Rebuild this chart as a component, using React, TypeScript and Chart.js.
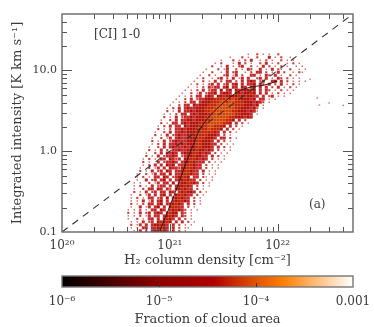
import React, { useEffect, useRef } from "react";
import { Chart, registerables } from "chart.js";

Chart.register(...registerables);

const FONT = "'DejaVu Serif', serif";
const INK = "#3a3a3a";

// Density map of the cloud: one string per row (top row first), one digit per column
// (blanks are only there to ease reading). "." = empty, 1..6 = rising fraction of cloud area.
const densityStartCol: number[] = [
  40, 36, 33, 31, 30, 28, 27, 26, 25, 24, 23, 22, 21, 20, 19, 18, 17, 16, 15, 15,
  14, 14, 13, 13, 12, 12, 11, 11, 10, 10, 10, 9, 9, 8, 8, 7, 7, 7, 6, 6,
  5, 5, 5, 4, 4, 4, 4, 3, 3, 3, 3, 3, 2, 2, 2, 2, 3, 3, 3, 4,
];
const densityRows: string[] = [
  "..1..2.1.1 ..2",
  "1...2.1..2 ...3.1.2..1",
  "1...2.1.2. 3..1.2.1..2 .1.1",
  "1.2...1.3. 2.1..2.3.1. 2..1.2.1",
  "2..1.3.1.2 3..2.1.3.2. 1.2.1..1.1",
  "1...2.13.. 2.1.32..3. 1.3.21..2. .1.1",
  "1..2..1.3. 23..1.2.33 .2.1.3.2.. 1.21",
  "1..2.1..23 .13.2..33. 1.32.3.1.. 2.1.",
  "1.2..1.23. 2.3.13.3.. 23.3.1.32. 2.1.1",
  "1..2.1.3.2 .33.2.3.34 3.23..34.3 .2.1.1.1.",
  "1.2.1.23.3 .23.34.3.3 34.32.3.2. 3.1.2.1",
  "1..1.2.323 3.34.33.43 .34.3.3.2. 3.1.2.1",
  "1.1.2.3.23 3.4.34.433 4434.3.32. 1.2.1.1",
  "1..2.13.23 34.3443.44 34454.3.3. 1.2.1.1",
  "1.1.2.33.3 43.4434444 5454433.3. 23.1.1",
  "1..2.3.233 4445555656 5544434.33 .1.1",
  "1.1.2.33.3 4445556656 6555444343 2.1",
  "1..2.33.43 4445556666 6655544434 .1",
  "1.2.3.3433 4445556666 6665544434 2.1",
  "2.1.3.3343 4445566666 6655444343 1",
  "1.1.2.33.3 4344455666 6666554443 .1",
  "2.1.3.2334 3444556666 6655444343",
  "1..2.3.334 4344455666 66554.3.2.",
  "2.1.33.343 4445556666 6554.3.2.1",
  "1.2.3.33.4 3444555665 554.3.2.1.",
  "2.1.2.3343 4445555655 54.3.2.1",
  "1..2.3.334 3444555555 43.3.2.1",
  "2.1.3.2343 3444555544 43.2.1.",
  "1..2.13.34 3344455544 43.33.2.1",
  "2.1.3.2343 3344455444 3.3.2.1",
  "1.2.3.3343 4344455444 33.2.1.1",
  "1..2.3.343 3343445544 43.3.2.1",
  "2.1.3.2.33 4334445443 43.2.1.1",
  "1..2.3.334 3.34445543 43.2.1.1",
  "2.1.3.2334 3.23445443 3.3.2.1",
  "1.2.1.33.4 323.445543 43.2.1.1",
  "2.1..3.233 43.3445433 3.2.1.1",
  "1.2.3.3.43 4.33455433 .2.1.1",
  "1..2.13.3. 4332445543 3.2.1.1",
  "2.1.3.23.4 3.33455433 .3.1.1",
  "1..2.13.33 .4.3345543 3.2.1.1",
  "1.2.1.33.4 3.234554.3 3.21.1",
  "1..3.23.34 .3.344543 3.2.1.1",
  "1.1..2.13. 33.4.34455 43.2.1",
  "1.2.1.3.23 3.3.34454 3.2.1.1",
  "1..2.33.43 .32.44543 3.2.1.",
  "2.1.3.23.3 3.43.34544 3.2.1",
  "1..2.13.3. 34.3.45543 3.2.1",
  "1.2.1.33.2 3.4.34543 3.2.1.",
  "1.1.3.13.3 4.3.34554 3.2.1",
  "2.1.2.33.3 4.33454 3.3.2.1",
  "1..3.13.34 .3.4553 3.2.1.",
  "1.1.2.1.33 .43.34543 2.1.1",
  "2.1.3.23.3 43.3544.3 2.1.",
  "1.1.2.13.3 3.34543.3 2.1",
  "1..2.1.33. 3.4543.3. 2.1",
  "1.1.3.23.4 3454.3.3.2 .1",
  "2.13.3.34 4543.3.2.1 .1",
  "1.1.33.33 4543.3.2.1 1",
  "1.3.2.34 4543.3.2.1",
].map((r) => r.replace(/ /g, ""));

// Sparse outlying cells to the right of the cloud.
const outlierX: number[] = [2.0e22, 2.33e22, 2.44e22, 3.0e22, 4.06e22];
const outlierY: number[] = [7.8, 4.55, 3.73, 3.95, 3.7];

// Mean relation (solid curve).
const curveX: number[] = [8.0e20, 9.7e20, 1.175e21, 1.39e21, 1.65e21, 1.88e21, 2.38e21, 3.2e21, 4.24e21, 5.58e21, 7.53e21, 9.93e21];
const curveY: number[] = [0.1, 0.188, 0.362, 0.678, 1.2, 1.83, 2.8, 4.06, 5.4, 6.22, 6.59, 7.38];

// Dashed reference line.
const lineX: number[] = [1e20, 5e22];
const lineY: number[] = [0.1, 50];

const xLabelled: number[] = [1e20, 1e21, 1e22];
const xLabels: string[] = ["10²⁰", "10²¹", "10²²"];
const yLabelled: number[] = [0.1, 1, 10];
const yLabels: string[] = ["0.1", "1.0", "10.0"];
const barLabelled: number[] = [1e-6, 1e-5, 1e-4, 1e-3];
const barLabels: string[] = ["10⁻⁶", "10⁻⁵", "10⁻⁴", "0.001"];

const levelColors = ["", "#d8706a", "#c8403a", "#c4282a", "#b01006", "#c42500", "#d44400"];
const levelSides = [0, 1.5, 2.1, 3, 3, 3, 3];

const LOG_X_START = 20.559;
const LOG_X_STEP = 0.02783;
const LOG_Y_START = 1.2;
const LOG_Y_STEP = -0.03704;

function densityCells() {
  const pts: { x: number; y: number }[] = [];
  const cols: string[] = [];
  const radii: number[] = [];
  densityRows.forEach((row, r) => {
    const start = densityStartCol[r];
    for (let i = 0; i < row.length; i++) {
      const level = row[i] === "." ? 0 : Number(row[i]);
      if (!level) continue;
      pts.push({
        x: Math.pow(10, LOG_X_START + (start + i) * LOG_X_STEP),
        y: Math.pow(10, LOG_Y_START + r * LOG_Y_STEP),
      });
      cols.push(levelColors[level]);
      radii.push(levelSides[level] * Math.SQRT1_2);
    }
  });
  return { pts, cols, radii };
}

// All 1..9 x 10^n tick values of a log axis; major when the multiplier is 1.
function logTicks(min: number, max: number) {
  const out: { v: number; major: boolean }[] = [];
  for (let e = Math.floor(Math.log10(min) + 1e-9); e <= Math.ceil(Math.log10(max)); e++) {
    for (let m = 1; m <= 9; m++) {
      const v = m * Math.pow(10, e);
      if (v >= min * 1.0001 && v <= max * 0.9999) out.push({ v, major: m === 1 });
    }
  }
  return out;
}

const matches = (list: number[], v: number) => list.findIndex((a) => Math.abs(a / v - 1) < 1e-6);

const framePlugin = {
  id: "frame",
  afterDatasetsDraw(chart: any) {
    const { ctx, chartArea: a, scales } = chart;
    ctx.save();
    ctx.strokeStyle = "#555";
    ctx.lineWidth = 1;
    ctx.beginPath();
    for (const t of logTicks(scales.x.min, scales.x.max)) {
      const p = Math.round(scales.x.getPixelForValue(t.v)) + 0.5;
      const l = t.major ? 8 : 5;
      ctx.moveTo(p, a.bottom);
      ctx.lineTo(p, a.bottom - l);
      ctx.moveTo(p, a.top);
      ctx.lineTo(p, a.top + l);
    }
    for (const t of logTicks(scales.y.min, scales.y.max)) {
      const p = Math.round(scales.y.getPixelForValue(t.v)) + 0.5;
      const l = t.major ? 10 : 5;
      ctx.moveTo(a.left, p);
      ctx.lineTo(a.left + l, p);
      ctx.moveTo(a.right, p);
      ctx.lineTo(a.right - l, p);
    }
    ctx.stroke();
    ctx.strokeStyle = "#666";
    ctx.lineWidth = 1.4;
    ctx.strokeRect(a.left, a.top, a.right - a.left, a.bottom - a.top);
    ctx.fillStyle = INK;
    ctx.font = `12px ${FONT}`;
    ctx.textBaseline = "middle";
    ctx.fillText("[CI] 1-0", 94, 35);
    ctx.fillText("(a)", 309, 205);
    ctx.restore();
  },
};

const colorbarPlugin = {
  id: "colorbar",
  beforeDatasetsDraw(chart: any) {
    const { ctx, chartArea: a, scales } = chart;
    const g = ctx.createLinearGradient(a.left, 0, a.right, 0);
    g.addColorStop(0, "#000000");
    g.addColorStop(0.33, "#8e0000");
    g.addColorStop(0.52, "#b00000");
    g.addColorStop(0.66, "#e05000");
    g.addColorStop(0.76, "#ff7f00");
    g.addColorStop(0.88, "#ffc080");
    g.addColorStop(1, "#ffffff");
    ctx.save();
    ctx.fillStyle = g;
    ctx.fillRect(a.left, a.top, a.right - a.left, a.bottom - a.top);
    ctx.strokeStyle = "#777";
    ctx.lineWidth = 1.4;
    ctx.strokeRect(a.left, a.top, a.right - a.left, a.bottom - a.top);
    ctx.strokeStyle = "#333";
    ctx.lineWidth = 1;
    ctx.beginPath();
    for (const v of barLabelled.slice(1, 3)) {
      const p = Math.round(scales.x.getPixelForValue(v)) + 0.5;
      ctx.moveTo(p, a.bottom);
      ctx.lineTo(p, a.bottom - 4);
    }
    ctx.stroke();
    ctx.restore();
  },
};

export default function App() {
  const mainRef = useRef<HTMLCanvasElement>(null);
  const barRef = useRef<HTMLCanvasElement>(null);

  useEffect(() => {
    const { pts, cols, radii } = densityCells();
    const main = new Chart(mainRef.current!, {
      type: "scatter",
      plugins: [framePlugin],
      data: {
        datasets: [
          {
            order: 3,
            data: pts,
            pointStyle: "rect",
            pointRadius: radii,
            pointBorderWidth: 0,
            pointBackgroundColor: cols,
          },
          {
            order: 3,
            data: outlierX.map((x, i) => ({ x, y: outlierY[i] })),
            pointStyle: "rect",
            pointRadius: 1.1,
            pointBorderWidth: 0,
            pointBackgroundColor: "#d98078",
          },
          {
            order: 1,
            type: "line",
            data: curveX.map((x, i) => ({ x, y: curveY[i] })),
            borderColor: "#2a1a14",
            borderWidth: 1,
            pointRadius: 0,
            tension: 0.3,
          },
          {
            order: 2,
            type: "line",
            data: lineX.map((x, i) => ({ x, y: lineY[i] })),
            borderColor: "#333333",
            borderWidth: 1.1,
            borderDash: [7, 6],
            pointRadius: 0,
          },
        ],
      } as any,
      options: {
        animation: false,
        responsive: false,
        events: [],
        layout: { padding: { top: 14, right: 21, left: 0, bottom: 0 } },
        plugins: { legend: { display: false }, tooltip: { enabled: false } },
        scales: {
          x: {
            type: "logarithmic",
            min: 1e20,
            max: 5e22,
            grid: { display: false, drawTicks: false },
            border: { display: false },
            afterFit: (s: any) => { s.height = 36; s.paddingLeft = 0; s.paddingRight = 0; },
            title: {
              display: true,
              text: "H₂ column density [cm⁻²]",
              color: INK,
              font: { family: FONT, size: 13 },
              padding: { top: 0, bottom: 0 },
            },
            ticks: {
              autoSkip: false,
              maxRotation: 0,
              padding: 7,
              color: INK,
              font: { family: FONT, size: 12 },
              callback: (v: any) => {
                const i = matches(xLabelled, Number(v));
                return i >= 0 ? xLabels[i] : null;
              },
            },
          },
          y: {
            type: "logarithmic",
            min: 0.1,
            max: 50,
            grid: { display: false, drawTicks: false },
            border: { display: false },
            afterFit: (s: any) => { s.width = 62; },
            title: {
              display: true,
              text: "Integrated intensity [K km s⁻¹]",
              color: INK,
              font: { family: FONT, size: 13 },
              padding: { top: 10, bottom: 0 },
            },
            ticks: {
              autoSkip: false,
              padding: 5,
              color: INK,
              font: { family: FONT, size: 11 },
              callback: (v: any) => {
                const i = matches(yLabelled, Number(v));
                return i >= 0 ? yLabels[i] : null;
              },
            },
          },
        },
      } as any,
    });

    const bar = new Chart(barRef.current!, {
      type: "scatter",
      plugins: [colorbarPlugin],
      data: { datasets: [{ data: [] }] },
      options: {
        animation: false,
        responsive: false,
        events: [],
        layout: { padding: { top: 8, right: 21, left: 62, bottom: 0 } },
        plugins: { legend: { display: false }, tooltip: { enabled: false } },
        scales: {
          y: { display: false, min: 0, max: 1 },
          x: {
            type: "logarithmic",
            min: 1e-6,
            max: 1e-3,
            grid: { display: false, drawTicks: false },
            border: { display: false },
            afterFit: (s: any) => { s.height = 40; s.paddingLeft = 0; s.paddingRight = 0; },
            title: {
              display: true,
              text: "Fraction of cloud area",
              color: INK,
              font: { family: FONT, size: 13 },
              padding: { top: 3, bottom: 0 },
            },
            ticks: {
              autoSkip: false,
              maxRotation: 0,
              padding: 8,
              color: INK,
              font: { family: FONT, size: 12 },
              callback: (v: any) => {
                const i = matches(barLabelled, Number(v));
                return i >= 0 ? barLabels[i] : null;
              },
            },
          },
        },
      } as any,
    });

    return () => {
      main.destroy();
      bar.destroy();
    };
  }, []);

  return (
    <div style={{ position: "absolute", left: 0, top: 0, width: 374, height: 327, background: "#fff" }}>
      <canvas ref={mainRef} width={374} height={268} style={{ position: "absolute", left: 0, top: 0 }} />
      <canvas ref={barRef} width={374} height={59} style={{ position: "absolute", left: 0, top: 268 }} />
    </div>
  );
}
